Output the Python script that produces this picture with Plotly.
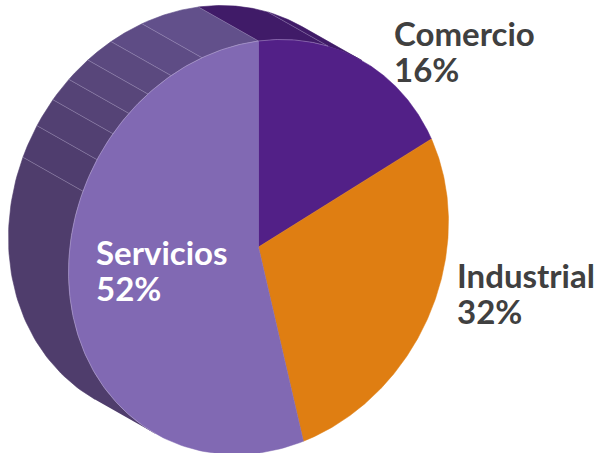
import numpy as np
import plotly.graph_objects as go

categories = ["Comercio", "Industrial", "Servicios"]
percent_labels = ["16%", "32%", "52%"]
# Angular share of each wedge as drawn in the picture (percent of the turn)
drawn_shares = [18.2, 28.0, 53.8]
face_colors = ["#522087", "#DF7E12", "#8169B3"]
label_colors = ["#404040", "#404040", "#FFFFFF"]
label_anchor_px = [(394, 33), (457, 275), (96, 252)]

# Bands of the extruded side (degrees clockwise from top)
side_edges_deg = [213, 292.5, 301.8, 310, 317, 324.4, 332.6, 342.7, 360, 381.5, 393]
side_colors = ["#4F3D6C", "#4F3D6E", "#524072", "#554376", "#58467A", "#5B497F", "#5E4C85", "#62508B",
               "#401B68", "#401B68"]

CX, CY, P, R, S = 258.5, 247.0, 190.0, 206.0, 25.0
DX, DY = -60.0, -34.0
LINE_GAP = 35.5


def ell(deg):
    t = np.radians(np.asarray(deg, dtype=float))
    return CX + P * np.sin(t), CY - R * np.cos(t) - S * np.sin(t)


fig = go.Figure()

# Side bands
for a0, a1, col in zip(side_edges_deg[:-1], side_edges_deg[1:], side_colors):
    th = np.linspace(a0, a1, 60)
    x, y = ell(th)
    fig.add_trace(go.Scatter(
        x=np.r_[x, x[::-1] + DX], y=np.r_[y, y[::-1] + DY],
        mode="lines", fill="toself", fillcolor=col,
        line=dict(color=col, width=0.6), hoverinfo="skip", showlegend=False))

# Thin separators on the side
for a in side_edges_deg[1:-1]:
    x, y = ell([a])
    fig.add_trace(go.Scatter(
        x=[x[0], x[0] + DX], y=[y[0], y[0] + DY], mode="lines",
        line=dict(color="rgba(200,190,225,0.5)", width=0.6), hoverinfo="skip", showlegend=False))

# Face wedges
start = 0.0
for name, share, col in zip(categories, drawn_shares, face_colors):
    end = start + share * 3.6
    th = np.linspace(start, end, 160)
    x, y = ell(th)
    fig.add_trace(go.Scatter(
        x=np.r_[CX, x, CX], y=np.r_[CY, y, CY], name=name,
        mode="lines", fill="toself", fillcolor=col,
        line=dict(color=col, width=0.5), showlegend=False))
    start = end

# Faint light rim where the face meets the side
th = np.linspace(side_edges_deg[0], 381.5, 300)
x, y = ell(th)
fig.add_trace(go.Scatter(x=x, y=y, mode="lines", hoverinfo="skip", showlegend=False,
                         line=dict(color="rgba(225,218,240,0.45)", width=0.7)))

annotations = []
for name, pct, col, (ax, ay) in zip(categories, percent_labels, label_colors, label_anchor_px):
    for txt, yy in ((name, ay), (pct, ay + LINE_GAP)):
        annotations.append(dict(
            x=ax, y=yy, xref="x", yref="y", text=txt, showarrow=False,
            xanchor="left", yanchor="middle", align="left", xshift=-2, height=34,
            font=dict(family="Lato", size=33, color=col, weight=700)))

fig.update_layout(
    width=598, height=453, margin=dict(l=0, r=0, t=0, b=0),
    paper_bgcolor="white", plot_bgcolor="white",
    xaxis=dict(range=[0, 598], visible=False, fixedrange=True),
    yaxis=dict(range=[453, 0], visible=False, fixedrange=True),
    annotations=annotations, showlegend=False)

fig.write_html("out.html", config={"displayModeBar": False},
               post_script="document.body.style.margin='0';document.body.style.overflow='hidden';")
